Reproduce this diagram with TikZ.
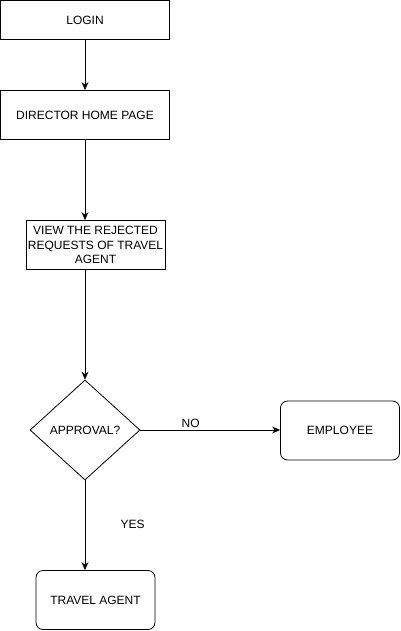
\documentclass[tikz,border=0pt]{standalone}
\usepackage{fontspec}
\setmainfont{Liberation Sans}
\usetikzlibrary{shapes.geometric,arrows.meta}
\begin{document}
\begin{tikzpicture}
  [x=1pt,y=1pt,
   font=\fontsize{12}{14.5}\selectfont,
   every path/.style={line width=0.8pt},
   box/.style={draw,inner sep=0pt,align=center},
   roundbox/.style={box,rounded corners=7pt,minimum width=119pt,minimum height=59pt},
   decision/.style={draw,diamond,inner sep=0pt,minimum width=110pt,minimum height=100pt},
   flow/.style={-{Stealth[length=8pt,width=7pt]}}]
  \useasboundingbox (0,0) rectangle (401,-631);
  \node[box,minimum width=169pt,minimum height=39pt] (login) at (85,-20) {LOGIN};
  \node[box,minimum width=169pt,minimum height=49pt] (dir) at (85,-115) {DIRECTOR HOME PAGE};
  \node[box,minimum width=139pt,minimum height=49pt] (view) at (95.5,-245)
    {VIEW THE REJECTED\\REQUESTS OF TRAVEL\\AGENT};
  \node[decision] (dec) at (85,-430) {APPROVAL?};
  \node[roundbox] (emp) at (340,-430.5) {EMPLOYEE};
  \node[roundbox] (ta) at (95.5,-600) {TRAVEL AGENT};
  \draw[flow] (login) -- (dir);
  \draw[flow] (dir.south) -- (dir.south |- view.north);
  \draw[flow] (dir.south |- view.south) -- (dec.north);
  \draw[flow] (dec.east) -- node[pos=0.36,above,inner sep=1.5pt] (no) {NO} (emp.west |- dec.east);
  \draw[flow] (dec.south) -- node[pos=0.49,anchor=west,xshift=32pt] (yes) {YES} (dec.south |- ta.north);
\end{tikzpicture}
\end{document}
